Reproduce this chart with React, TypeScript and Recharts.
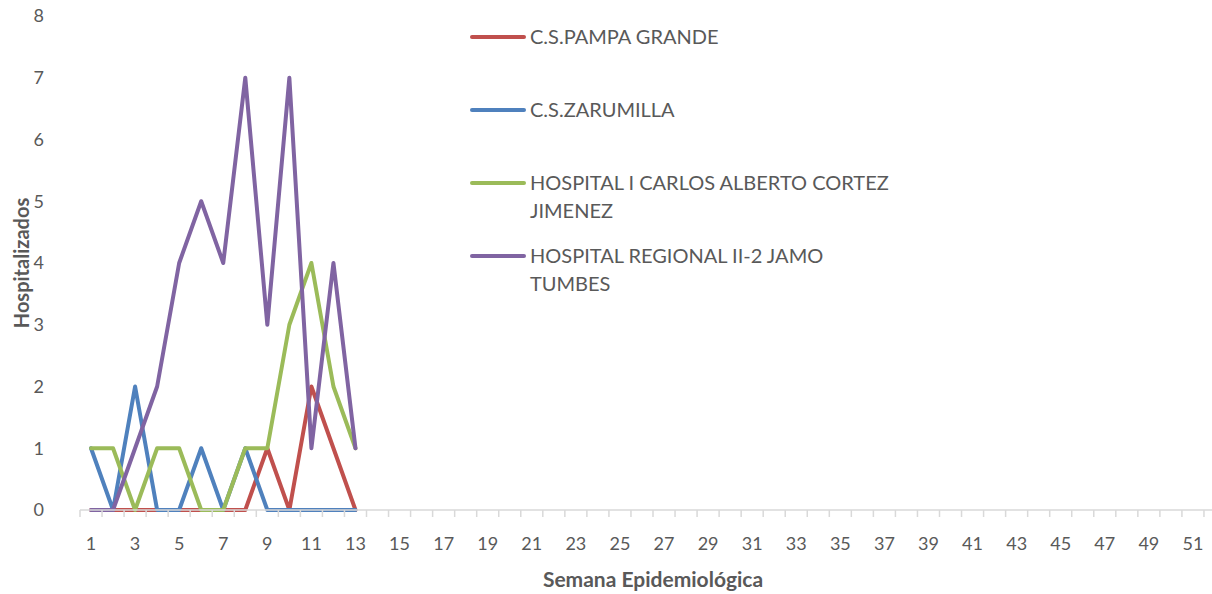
import React from 'react';
import { Label, Line, LineChart, XAxis, YAxis } from 'recharts';

const weeks = [1, 2, 3, 4, 5, 6, 7, 8, 9, 10, 11, 12, 13];
const pampaGrande = [0, 0, 0, 0, 0, 0, 0, 0, 1, 0, 2, 1, 0];
const zarumilla = [1, 0, 2, 0, 0, 1, 0, 1, 0, 0, 0, 0, 0];
const cortezJimenez = [1, 1, 0, 1, 1, 0, 0, 1, 1, 3, 4, 2, 1];
const jamoTumbes = [0, 0, 1, 2, 4, 5, 4, 7, 3, 7, 1, 4, 1];

const weekLabels = [1, 3, 5, 7, 9, 11, 13, 15, 17, 19, 21, 23, 25, 27, 29, 31, 33, 35, 37, 39, 41, 43, 45, 47, 49, 51];
const yTicks = [0, 1, 2, 3, 4, 5, 6, 7, 8];
const lastWeek = 52;

const series = [
  { key: 'pampa', name: 'C.S.PAMPA GRANDE', color: '#c0504d', values: pampaGrande },
  { key: 'zarumilla', name: 'C.S.ZARUMILLA', color: '#4f81bd', values: zarumilla },
  { key: 'cortez', name: 'HOSPITAL I CARLOS ALBERTO CORTEZ JIMENEZ', color: '#9bbb59', values: cortezJimenez },
  { key: 'jamo', name: 'HOSPITAL REGIONAL II-2 JAMO TUMBES', color: '#8064a2', values: jamoTumbes },
];

const data = weeks.map((week, i) => {
  const row: Record<string, number> = { week };
  series.forEach((s) => {
    row[s.key] = s.values[i];
  });
  return row;
});

// marks between weeks (like the spreadsheet), labels on odd weeks
const boundaries = Array.from({ length: lastWeek + 1 }, (_, i) => i + 0.5);
const xTicks = [...boundaries, ...weekLabels].sort((a, b) => a - b);

const FONT = 'Lato, "Open Sans", sans-serif';
const TEXT = '#595959';
const AXIS = '#d9d9d9';

const WeekTick = ({ x, y, payload }: any) => {
  const v = payload.value;
  if (!Number.isInteger(v)) {
    return <line x1={x} x2={x} y1={y} y2={y + 7} stroke={AXIS} strokeWidth={1.5} />;
  }
  return (
    <text x={x} y={y + 27} dy="0.71em" textAnchor="middle" fill={TEXT} fontSize={18} fontFamily={FONT}>
      {v}
    </text>
  );
};

const LegendBox = () => (
  <div style={{ position: 'absolute', left: 470, top: 22, width: 440, fontFamily: FONT, fontSize: 20, color: TEXT }}>
    {series.map((s) => (
      <div key={s.key} style={{ display: 'flex', alignItems: 'flex-start', height: 73 }}>
        <div style={{ width: 56, height: 30, display: 'flex', alignItems: 'center', flexShrink: 0 }}>
          <div style={{ width: 56, height: 4, borderRadius: 2, background: s.color }} />
        </div>
        <div style={{ lineHeight: '28px', paddingLeft: 4, width: 372 }}>{s.name}</div>
      </div>
    ))}
  </div>
);

export default function App() {
  return (
    <div style={{ position: 'absolute', left: 0, top: 0, width: 1212, height: 594, background: '#fff', overflow: 'hidden' }}>
      <LineChart width={1212} height={594} data={data} margin={{ top: 16, right: -14, left: 0, bottom: 0 }}>
        <XAxis
          type="number"
          dataKey="week"
          domain={[0.5, lastWeek + 0.5]}
          ticks={xTicks}
          interval={0}
          height={84}
          axisLine={{ stroke: AXIS, strokeWidth: 1.5 }}
          tickLine={false}
          tickSize={0}
          tickMargin={0}
          tick={<WeekTick />}
        >
          <Label
            value="Semana Epidemiológica"
            position="insideBottom"
            offset={7}
            style={{ fill: TEXT, fontSize: 21, fontWeight: 700, fontFamily: FONT }}
          />
        </XAxis>
        <YAxis
          domain={[0, 8]}
          ticks={yTicks}
          interval={0}
          width={80}
          axisLine={false}
          tickLine={false}
          tickMargin={30}
          tick={{ fill: TEXT, fontSize: 18, fontFamily: FONT }}
        >
          <Label
            value="Hospitalizados"
            angle={-90}
            position="insideLeft"
            offset={22}
            style={{ fill: TEXT, fontSize: 20, fontWeight: 700, fontFamily: FONT, textAnchor: 'middle' }}
          />
        </YAxis>
        {series.map((s) => (
          <Line
            key={s.key}
            type="linear"
            dataKey={s.key}
            name={s.name}
            stroke={s.color}
            strokeWidth={4}
            strokeLinejoin="round"
            strokeLinecap="round"
            dot={false}
            activeDot={false}
            isAnimationActive={false}
          />
        ))}
      </LineChart>
      <LegendBox />
    </div>
  );
}
